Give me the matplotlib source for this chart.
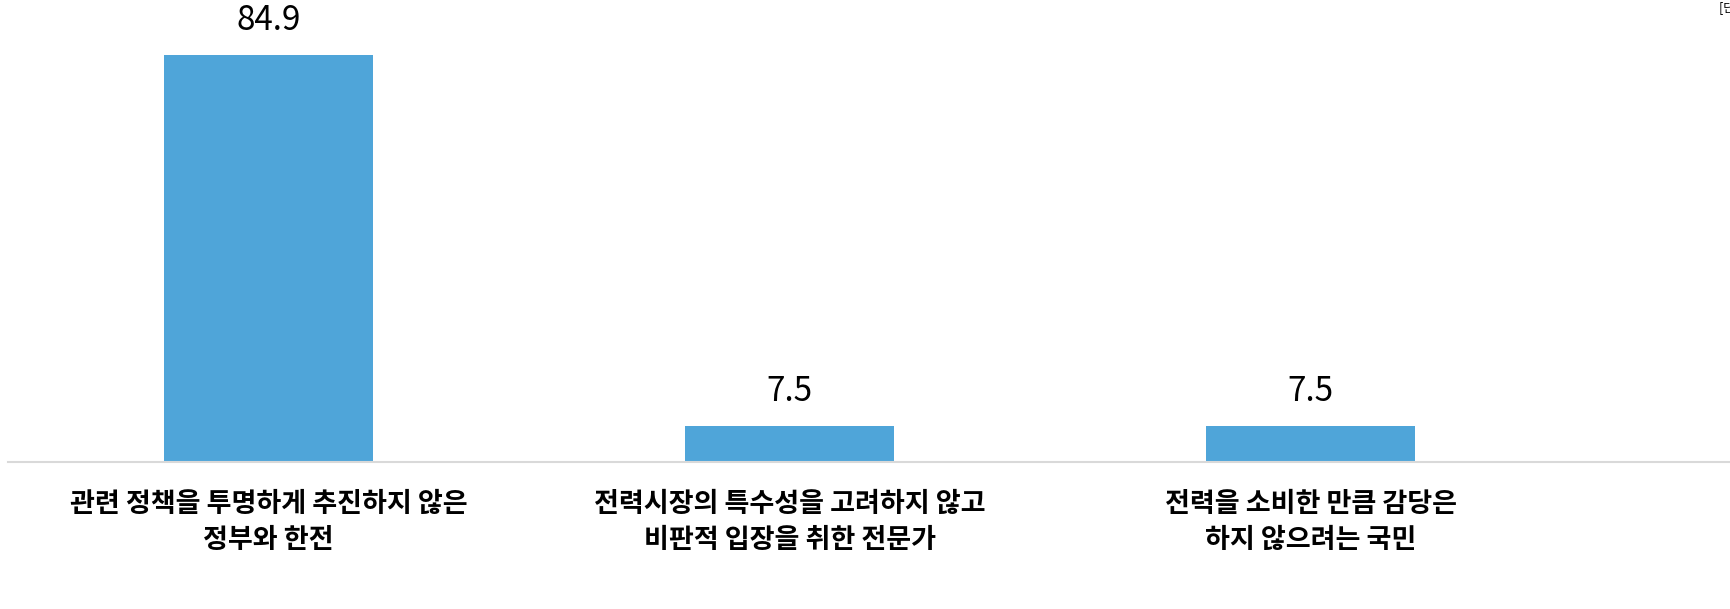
import matplotlib

matplotlib.use("Agg")

import matplotlib.pyplot as plt  # noqa: E402

plt.rcParams["font.family"] = ["Noto Sans CJK KR", "DejaVu Sans"]

categories = [
    "관련 정책을 투명하게 추진하지 않은\n정부와 한전",
    "전력시장의 특수성을 고려하지 않고\n비판적 입장을 취한 전문가",
    "전력을 소비한 만큼 감당은\n하지 않으려는 국민",
]
values = [84.9, 7.5, 7.5]
value_labels = ["84.9", "7.5", "7.5"]

BAR_COLOR = "#4FA5D9"

fig = plt.figure(figsize=(17.3, 6.09), dpi=100)
ax = fig.add_axes([8 / 1730, 147 / 609, 1722 / 1730, 462 / 609])

positions = list(range(len(categories)))
bars = ax.bar(positions, values, width=0.4, color=BAR_COLOR, zorder=2)
for bar, label in zip(bars, value_labels):
    ax.annotate(
        label,
        (bar.get_x() + bar.get_width() / 2, bar.get_height()),
        xytext=(0, 12),
        textcoords="offset points",
        ha="center",
        va="bottom",
        fontsize=24,
        fontweight="medium",
        color="black",
    )

ax.set_xlim(-0.5, 2.805)
ax.set_ylim(0, 96.4)
ax.set_xticks(positions)
ax.set_xticklabels(categories, fontsize=19.5, fontweight="bold", linespacing=1.38)
ax.tick_params(axis="x", length=0, pad=20)
ax.set_yticks([])
for side in ("top", "right", "left"):
    ax.spines[side].set_visible(False)
ax.spines["bottom"].set_color("#D9D9D9")
ax.spines["bottom"].set_linewidth(1.5)

# unit note, clipped at the right edge as in the source
fig.text(1719 / 1730, 1 - 1 / 609, "[단위: %]", ha="left", va="top", fontsize=9)

fig.savefig("out.png", dpi=100)
plt.close(fig)
